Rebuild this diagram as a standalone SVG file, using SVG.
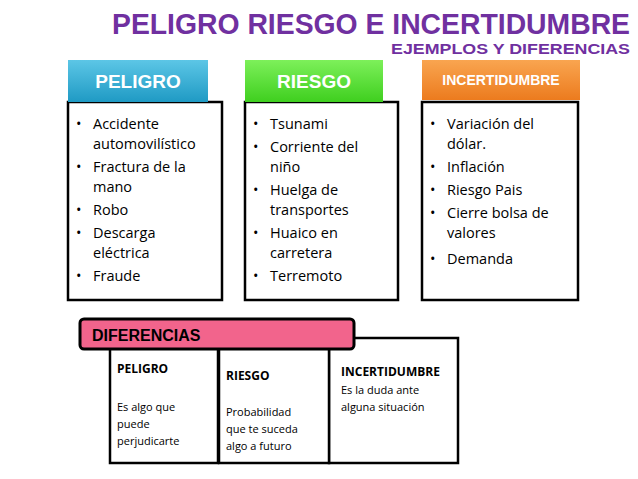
<svg xmlns="http://www.w3.org/2000/svg" width="638" height="479" viewBox="0 0 638 479">
<defs>
<linearGradient id="gb" x1="0" y1="0" x2="0" y2="1"><stop offset="0" stop-color="#5cc6e6"/><stop offset="1" stop-color="#1f9ac4"/></linearGradient>
<linearGradient id="gg" x1="0" y1="0" x2="0" y2="1"><stop offset="0" stop-color="#7df05a"/><stop offset="1" stop-color="#3fcf1f"/></linearGradient>
<linearGradient id="go" x1="0" y1="0" x2="0" y2="1"><stop offset="0" stop-color="#f9a550"/><stop offset="1" stop-color="#ec7b1e"/></linearGradient>
</defs>
<style>
.h{font-family:"Liberation Sans",Arial,sans-serif;font-weight:bold;fill:#fff;text-anchor:middle}
.b{fill:#fff;stroke:#000;stroke-width:2.5}
.t{font-family:"Open Sans","Noto Sans",sans-serif;font-size:14.5px;fill:#000}
.s{font-family:"Open Sans","Noto Sans",sans-serif;font-size:11px;fill:#000}
.sb{font-family:"Open Sans","Noto Sans",sans-serif;font-size:12px;font-weight:bold;fill:#000}
</style>
<rect width="638" height="479" fill="#fff"/>
<g id="title" font-family="Liberation Sans,Arial,sans-serif" font-weight="bold" fill="#7030a0">
<text x="112" y="34" font-size="29" textLength="518" lengthAdjust="spacingAndGlyphs">PELIGRO RIESGO E INCERTIDUMBRE</text>
<text x="391" y="54" font-size="15" textLength="239" lengthAdjust="spacingAndGlyphs">EJEMPLOS Y DIFERENCIAS</text>
</g>
<g id="peligro">
<rect class="b" x="68" y="102" width="154" height="198"/>
<rect x="68" y="60" width="140" height="42" fill="url(#gb)"/>
<text class="h" x="138" y="88" font-size="19">PELIGRO</text>
<text class="t"><tspan x="76" y="129">•</tspan><tspan x="93" y="129">Accidente</tspan><tspan x="93" y="149">automovilístico</tspan>
<tspan x="76" y="172">•</tspan><tspan x="93" y="172">Fractura de la</tspan><tspan x="93" y="192">mano</tspan>
<tspan x="76" y="215">•</tspan><tspan x="93" y="215">Robo</tspan>
<tspan x="76" y="238">•</tspan><tspan x="93" y="238">Descarga</tspan><tspan x="93" y="258">eléctrica</tspan>
<tspan x="76" y="281">•</tspan><tspan x="93" y="281">Fraude</tspan></text>
</g>
<g id="riesgo">
<rect class="b" x="245" y="102" width="153" height="198"/>
<rect x="245" y="60" width="138" height="42" fill="url(#gg)"/>
<text class="h" x="314" y="88" font-size="19">RIESGO</text>
<text class="t"><tspan x="253" y="129">•</tspan><tspan x="270" y="129">Tsunami</tspan>
<tspan x="253" y="152">•</tspan><tspan x="270" y="152">Corriente del</tspan><tspan x="270" y="172">niño</tspan>
<tspan x="253" y="195">•</tspan><tspan x="270" y="195">Huelga de</tspan><tspan x="270" y="215">transportes</tspan>
<tspan x="253" y="238">•</tspan><tspan x="270" y="238">Huaico en</tspan><tspan x="270" y="258">carretera</tspan>
<tspan x="253" y="281">•</tspan><tspan x="270" y="281">Terremoto</tspan></text>
</g>
<g id="incertidumbre">
<rect class="b" x="422" y="102" width="156" height="198"/>
<rect x="422" y="60" width="158" height="40" fill="url(#go)"/>
<text class="h" x="501" y="85" font-size="14">INCERTIDUMBRE</text>
<text class="t"><tspan x="430" y="129">•</tspan><tspan x="447" y="129">Variación del</tspan><tspan x="447" y="149">dólar.</tspan>
<tspan x="430" y="172">•</tspan><tspan x="447" y="172">Inflación</tspan>
<tspan x="430" y="195">•</tspan><tspan x="447" y="195">Riesgo Pais</tspan>
<tspan x="430" y="218">•</tspan><tspan x="447" y="218">Cierre bolsa de</tspan><tspan x="447" y="238">valores</tspan>
<tspan x="430" y="264">•</tspan><tspan x="447" y="264">Demanda</tspan></text>
</g>
<g id="dif-incertidumbre">
<rect class="b" x="329" y="338" width="129" height="125"/>
<text class="sb" x="341" y="376">INCERTIDUMBRE</text>
<text class="s"><tspan x="341" y="394">Es la duda ante</tspan><tspan x="341" y="411">alguna situación</tspan></text>
</g>
<g id="dif-peligro">
<rect class="b" x="110" y="347" width="108" height="116"/>
<text class="sb" x="117" y="373">PELIGRO</text>
<text class="s"><tspan x="117" y="411">Es algo que</tspan><tspan x="117" y="428">puede</tspan><tspan x="117" y="445">perjudicarte</tspan></text>
</g>
<g id="dif-riesgo">
<rect class="b" x="219" y="347" width="110" height="116"/>
<text class="sb" x="226" y="380">RIESGO</text>
<text class="s"><tspan x="226" y="416">Probabilidad</tspan><tspan x="226" y="433">que te suceda</tspan><tspan x="226" y="450">algo a futuro</tspan></text>
</g>
<g id="diferencias">
<rect x="80" y="319" width="274" height="30" rx="4" fill="#f2648c" stroke="#000" stroke-width="3"/>
<text x="92" y="341" font-family="Liberation Sans,Arial,sans-serif" font-weight="bold" font-size="16" fill="#000">DIFERENCIAS</text>
</g>
<g id="connectors"/>
</svg>
